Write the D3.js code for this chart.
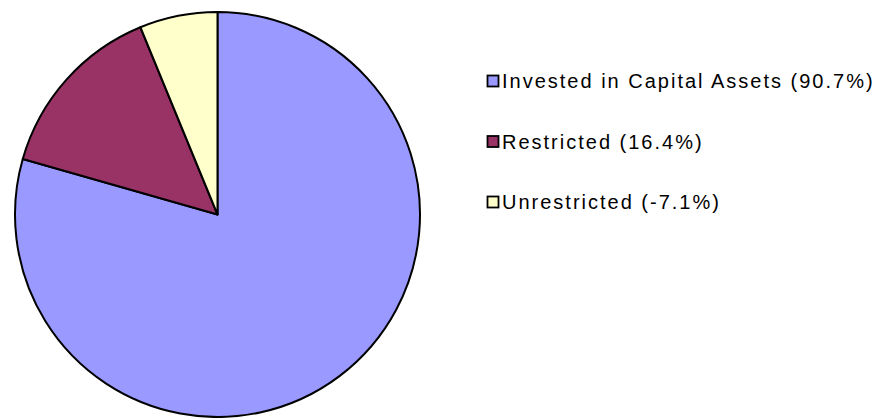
<!DOCTYPE html>
<html>
<head>
<meta charset="utf-8">
<script src="https://cdn.jsdelivr.net/npm/d3@7"></script>
<style>
  html, body { margin: 0; padding: 0; background: #fff; }
  svg { display: block; }
</style>
</head>
<body>
<svg id="chart" width="889" height="418"></svg>
<script>
const categories = ['Invested in Capital Assets', 'Restricted', 'Unrestricted'];
const percents = [90.7, 16.4, -7.1];
const colors = ['#9999ff', '#993366', '#ffffcc'];

const width = 889;
const height = 418;
const cx = 217.5, cy = 214.5, radius = 202.5;

const svg = d3.select('#chart');

const pie = d3.pie()
    .value(d => Math.abs(d))
    .sort(null);

const arc = d3.arc()
    .innerRadius(0)
    .outerRadius(radius);

const g = svg.append('g')
    .attr('transform', `translate(${cx},${cy})`);

g.selectAll('path')
    .data(pie(percents))
    .join('path')
    .attr('d', arc)
    .attr('fill', (d, i) => colors[i])
    .attr('stroke', '#000')
    .attr('stroke-width', 2)
    .attr('stroke-linejoin', 'round');

// legend
const legend = svg.append('g')
    .attr('transform', 'translate(486,0)');

const rowY = d3.scalePoint()
    .domain(categories)
    .range([88, 209]);

const item = legend.selectAll('g')
    .data(categories)
    .join('g')
    .attr('transform', d => `translate(0,${rowY(d)})`);

item.append('rect')
    .attr('x', 1.5)
    .attr('y', -12.5)
    .attr('width', 11)
    .attr('height', 11)
    .attr('fill', (d, i) => colors[i])
    .attr('stroke', '#000')
    .attr('stroke-width', 1.8);

item.append('text')
    .attr('x', 16)
    .attr('y', 0)
    .attr('font-family', 'Liberation Sans, Arial, sans-serif')
    .attr('font-size', 20)
    .attr('letter-spacing', 2)
    .attr('fill', '#000')
    .text((d, i) => `${d} (${percents[i].toFixed(1)}%)`);
</script>
</body>
</html>
